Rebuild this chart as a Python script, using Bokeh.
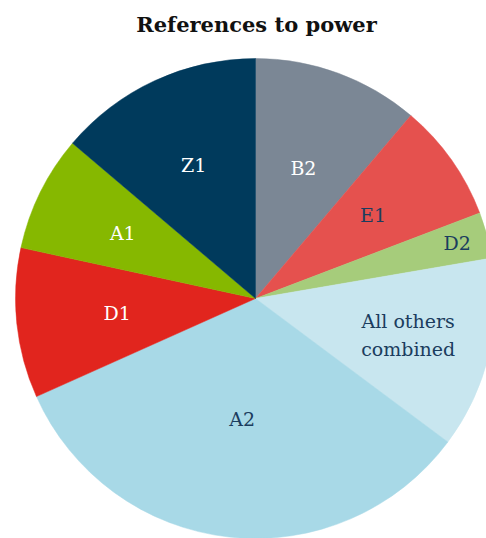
import math
from bokeh.plotting import figure
from bokeh.models import Range1d, ColumnDataSource
from bokeh.core.properties import value
from bokeh.embed import file_html
from bokeh.resources import INLINE

# ---- data (share of references, %) ----
categories = ["B2", "E1", "D2", "All others\ncombined", "A2", "D1", "A1", "Z1"]
shares = [11.2, 8.0, 3.1, 12.9, 33.1, 10.1, 7.8, 13.8]
colors = ["#7b8795", "#e5514e", "#a6cc7b", "#c8e6ef", "#a8d9e7", "#e1251e", "#86b800", "#003a5c"]
text_colors = ["#ffffff", "#1b3d5e", "#1b3d5e", "#1b3d5e", "#1b3d5e", "#ffffff", "#ffffff", "#ffffff"]
label_r = [139, 144, 209, 157, 121, 139, 148, 147]
title = "References to power"

# ---- layout (1 data unit = 1 px) ----
W, H = 486, 538
CX, CY, R = 255, -298, 240

p = figure(width=W, height=H, output_backend="svg", toolbar_location=None,
           x_range=Range1d(0, W), y_range=Range1d(-H, 0),
           min_border=0, outline_line_color=None)
p.axis.visible = False
p.grid.visible = False
p.background_fill_color = "white"
p.border_fill_color = "white"

total = sum(shares)
starts, ends, lx, ly = [], [], [], []
acc = 0.0
for s, lr in zip(shares, label_r):
    t1 = acc / total * 2 * math.pi          # clockwise from top
    acc += s
    t2 = acc / total * 2 * math.pi
    starts.append(math.pi / 2 - t2)
    ends.append(math.pi / 2 - t1)
    tm = (t1 + t2) / 2
    lx.append(CX + lr * math.sin(tm))
    ly.append(CY + lr * math.cos(tm))

src = ColumnDataSource(dict(start=starts, end=ends, color=colors, x=lx, y=ly,
                            label=categories, tcolor=text_colors))
p.wedge(x=CX, y=CY, radius=R, start_angle="start", end_angle="end",
        fill_color="color", line_color="color", line_width=0.5, source=src)

p.text(x="x", y="y", text="label", text_color="tcolor", source=src,
       text_font=value("DejaVu Serif"), text_font_size="19px",
       text_align="center", text_baseline="middle", text_line_height=1.3)

p.text(x=[256], y=[-24], text=[title], text_font=value("DejaVu Serif"),
       text_font_style="bold", text_font_size="21px", text_color="#111111",
       text_align="center", text_baseline="middle")

open("out.html", "w").write(file_html(p, INLINE))
